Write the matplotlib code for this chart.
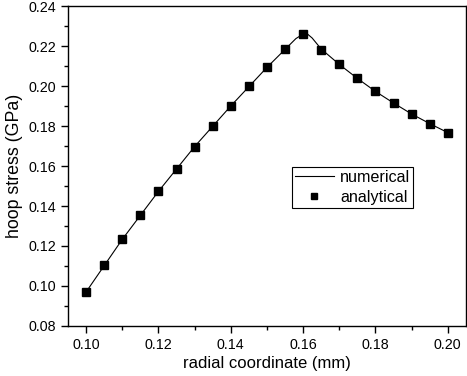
import matplotlib
matplotlib.use('Agg')
import matplotlib.pyplot as plt
from matplotlib.ticker import MultipleLocator, FormatStrFormatter

plt.rcParams['font.family'] = ['Liberation Sans', 'DejaVu Sans']

# analytical points
r_analytical = [0.100, 0.105, 0.110, 0.115, 0.120, 0.125, 0.130, 0.135, 0.140, 0.145, 0.150,
                0.155, 0.160, 0.165, 0.170, 0.175, 0.180, 0.185, 0.190, 0.195, 0.200]
s_analytical = [0.0970, 0.1103, 0.1233, 0.1355, 0.1473, 0.1585, 0.1697, 0.1800, 0.1900, 0.2000, 0.2093,
                0.2183, 0.2262, 0.2180, 0.2108, 0.2038, 0.1973, 0.1915, 0.1860, 0.1812, 0.1767]

# numerical curve (traced, slightly rounded at the peak)
r_numerical = [0.100, 0.110, 0.120, 0.130, 0.140, 0.150, 0.158, 0.160, 0.1612, 0.1625,
               0.165, 0.170, 0.175, 0.180, 0.185, 0.190, 0.195, 0.200]
s_numerical = [0.0970, 0.1233, 0.1473, 0.1697, 0.1900, 0.2093, 0.2237, 0.2260, 0.2260, 0.2240,
               0.2185, 0.2108, 0.2038, 0.1973, 0.1915, 0.1860, 0.1812, 0.1767]

fig = plt.figure(figsize=(4.67, 3.76), dpi=100)
ax = fig.add_axes([0.1456, 0.133, 0.852, 0.851])

ax.plot(r_numerical, s_numerical, color='black', linewidth=0.8, label='numerical')
ax.plot(r_analytical, s_analytical, linestyle='none', marker='s', markersize=5.5,
        color='black', label='analytical')

ax.set_xlim(0.095, 0.205)
ax.set_ylim(0.08, 0.24)
ax.xaxis.set_major_locator(MultipleLocator(0.02))
ax.xaxis.set_minor_locator(MultipleLocator(0.01))
ax.yaxis.set_major_locator(MultipleLocator(0.02))
ax.yaxis.set_minor_locator(MultipleLocator(0.01))
ax.xaxis.set_major_formatter(FormatStrFormatter('%.2f'))
ax.yaxis.set_major_formatter(FormatStrFormatter('%.2f'))

ax.tick_params(which='both', direction='out', top=False, right=False, labelsize=10.3,
               width=1.0)
ax.tick_params(which='major', length=5)
ax.tick_params(which='minor', length=3)
for s in ax.spines.values():
    s.set_linewidth(1.0)

ax.set_xlabel('radial coordinate (mm)', fontsize=12, labelpad=3)
ax.set_ylabel('hoop stress (GPa)', fontsize=12.8, labelpad=4)

leg = ax.legend(loc='upper left', bbox_to_anchor=(0.563, 0.497), fontsize=11.6,
                frameon=True, fancybox=False, edgecolor='black', framealpha=1,
                borderpad=0.18, handlelength=2.4, labelspacing=0.3, handletextpad=0.4,
                borderaxespad=0, markerscale=0.8)
leg.get_frame().set_linewidth(0.8)

fig.savefig('out.png', dpi=100)
